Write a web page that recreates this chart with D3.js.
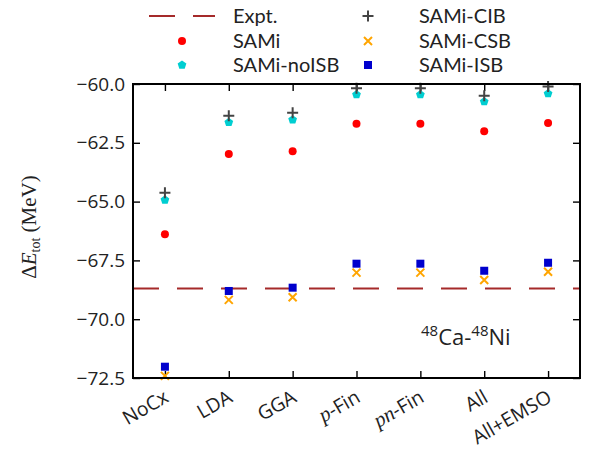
<!DOCTYPE html>
<html>
<head>
<meta charset="utf-8">
<script src="https://cdn.jsdelivr.net/npm/d3@7"></script>
<style>
  body { margin: 0; background: #fff; }
  text { font-family: "Open Sans", sans-serif; fill: #222; }
</style>
</head>
<body>
<svg width="594" height="455"></svg>
<script>
// categories along x
var categories = ["NoCx", "LDA", "GGA", "p-Fin", "pn-Fin", "All", "All+EMSO"];
var yTicks = [-60.0, -62.5, -65.0, -67.5, -70.0, -72.5];

// series (MeV)
var sami      = [-66.39, -62.98, -62.86, -61.69, -61.69, -62.01, -61.66];
var samiNoISB = [-64.93, -61.63, -61.52, -60.45, -60.45, -60.75, -60.41];
var samiCIB   = [-64.62, -61.35, -61.22, -60.18, -60.18, -60.50, -60.11];
var samiCSB   = [-72.41, -69.18, -69.07, -68.02, -68.02, -68.33, -67.98];
var samiISB   = [-72.02, -68.80, -68.66, -67.64, -67.64, -67.94, -67.60];
var expt = -68.69;

var svg = d3.select("svg"),
    margin = { top: 84, right: 14, bottom: 77, left: 133 },
    width = +svg.attr("width") - margin.left - margin.right,
    height = +svg.attr("height") - margin.top - margin.bottom,
    g = svg.append("g").attr("transform", "translate(" + margin.left + "," + margin.top + ")");

var x = d3.scalePoint().domain(categories).range([0, width]).padding(0.5);
var y = d3.scaleLinear().domain([-72.5, -60]).range([height, 0]);

var fmt = function (d) { return d3.format(".1f")(d).replace("-", "\u2212"); };

// axes: inward ticks on all four sides
var axLeft = g.append("g").call(d3.axisLeft(y).tickValues(yTicks).tickFormat(fmt).tickSizeInner(-7).tickSizeOuter(0).tickPadding(8));
var axRight = g.append("g").attr("transform", "translate(" + width + ",0)")
    .call(d3.axisRight(y).tickValues(yTicks).tickFormat("").tickSizeInner(-7).tickSizeOuter(0));
var axTop = g.append("g").call(d3.axisTop(x).tickFormat("").tickSizeInner(-7).tickSizeOuter(0));
var axBottom = g.append("g").attr("transform", "translate(0," + height + ")")
    .call(d3.axisBottom(x).tickFormat("").tickSizeInner(-7).tickSizeOuter(0));

[axLeft, axRight, axTop, axBottom].forEach(function (a) {
    a.select(".domain").remove();
    a.selectAll(".tick line").attr("stroke", "#000").attr("stroke-width", 1.4);
});
axLeft.selectAll(".tick text").style("font-size", "19px").attr("fill", "#222")
    .style("font-family", "'Open Sans', sans-serif");

// x tick labels, rotated
var xl = g.append("g").attr("transform", "translate(0," + height + ")");
categories.forEach(function (c) {
    var t = xl.append("text")
        .attr("transform", "translate(" + (x(c) + 5) + ",23) rotate(-30)")
        .attr("text-anchor", "end")
        .style("font-size", "19.5px");
    if (c === "p-Fin" || c === "pn-Fin") {
        t.append("tspan").text(c.split("-")[0])
            .style("font-family", "'Liberation Serif', serif").style("font-style", "italic").style("font-size", "21px");
        t.append("tspan").text("-Fin");
    } else {
        t.text(c);
    }
});

// experimental line
g.append("line")
    .attr("x1", 0).attr("x2", width)
    .attr("y1", y(expt)).attr("y2", y(expt))
    .attr("stroke", "#a52a2a").attr("stroke-width", 2)
    .attr("stroke-dasharray", "26,18");

var pent = function (r) {
    var pts = d3.range(5).map(function (i) {
        var a = -Math.PI / 2 + i * 2 * Math.PI / 5;
        return [r * Math.cos(a), r * Math.sin(a)];
    });
    return "M" + pts.join("L") + "Z";
};

var drawCircle = function (sel, vals) {
    sel.selectAll(null).data(vals).enter().append("circle")
        .attr("cx", function (d, i) { return x(categories[i]); })
        .attr("cy", function (d) { return y(d); })
        .attr("r", 4).attr("fill", "#ff0000");
};
var drawPent = function (sel, vals) {
    sel.selectAll(null).data(vals).enter().append("path")
        .attr("transform", function (d, i) { return "translate(" + x(categories[i]) + "," + y(d) + ")"; })
        .attr("d", pent(4.6)).attr("fill", "#00ced1");
};
var drawPlus = function (sel, vals) {
    sel.selectAll(null).data(vals).enter().append("path")
        .attr("transform", function (d, i) { return "translate(" + x(categories[i]) + "," + y(d) + ")"; })
        .attr("d", "M-5.5,0H5.5M0,-5.5V5.5").attr("stroke", "#444").attr("stroke-width", 2).attr("fill", "none");
};
var drawX = function (sel, vals) {
    sel.selectAll(null).data(vals).enter().append("path")
        .attr("transform", function (d, i) { return "translate(" + x(categories[i]) + "," + y(d) + ")"; })
        .attr("d", "M-4,-4L4,4M-4,4L4,-4").attr("stroke", "#ffa500").attr("stroke-width", 2).attr("fill", "none");
};
var drawSq = function (sel, vals) {
    sel.selectAll(null).data(vals).enter().append("rect")
        .attr("x", function (d, i) { return x(categories[i]) - 4; })
        .attr("y", function (d) { return y(d) - 4; })
        .attr("width", 8).attr("height", 8).attr("fill", "#0000cd");
};

drawCircle(g.append("g"), sami);
drawPent(g.append("g"), samiNoISB);
drawPlus(g.append("g"), samiCIB);
drawX(g.append("g"), samiCSB);
drawSq(g.append("g"), samiISB);

// frame
g.append("rect").attr("width", width).attr("height", height)
    .attr("fill", "none").attr("stroke", "#000").attr("stroke-width", 2);

// annotation
var ann = g.append("text").attr("x", 288).attr("y", 261).style("font-size", "22px");
ann.append("tspan").text("48").attr("dy", -9).style("font-size", "15px");
ann.append("tspan").text("Ca-").attr("dy", 9);
ann.append("tspan").text("48").attr("dy", -9).style("font-size", "15px");
ann.append("tspan").text("Ni").attr("dy", 9);

// y label
var yl = svg.append("text")
    .attr("transform", "translate(36," + (margin.top + height / 2 - 4) + ") rotate(-90)")
    .attr("text-anchor", "middle")
    .style("font-family", "'Liberation Serif', serif").style("font-size", "21px");
yl.append("tspan").text("\u0394");
yl.append("tspan").text("E").style("font-style", "italic");
yl.append("tspan").text("tot").attr("dy", 4).style("font-size", "14px");
yl.append("tspan").text(" (MeV)").attr("dy", -4);

// legend
var leg = svg.append("g");
var legItems = [
    { name: "Expt.", col: 0, row: 0, draw: function (s) {
        s.append("line").attr("x1", -33).attr("x2", 33).attr("stroke", "#a52a2a").attr("stroke-width", 2).attr("stroke-dasharray", "26,18");
    } },
    { name: "SAMi", col: 0, row: 1, draw: function (s) { s.append("circle").attr("r", 4).attr("fill", "#ff0000"); } },
    { name: "SAMi-noISB", col: 0, row: 2, draw: function (s) { s.append("path").attr("d", pent(4.6)).attr("fill", "#00ced1"); } },
    { name: "SAMi-CIB", col: 1, row: 0, draw: function (s) {
        s.append("path").attr("d", "M-5.5,0H5.5M0,-5.5V5.5").attr("stroke", "#444").attr("stroke-width", 2);
    } },
    { name: "SAMi-CSB", col: 1, row: 1, draw: function (s) {
        s.append("path").attr("d", "M-4,-4L4,4M-4,4L4,-4").attr("stroke", "#ffa500").attr("stroke-width", 2);
    } },
    { name: "SAMi-ISB", col: 1, row: 2, draw: function (s) {
        s.append("rect").attr("x", -4).attr("y", -4).attr("width", 8).attr("height", 8).attr("fill", "#0000cd");
    } }
];
var colMarker = [182, 368], colText = [233, 419], rowY = [16, 41, 65];
legItems.forEach(function (it) {
    var s = leg.append("g").attr("transform", "translate(" + colMarker[it.col] + "," + rowY[it.row] + ")");
    it.draw(s);
    leg.append("text").attr("x", colText[it.col]).attr("y", rowY[it.row] + 7)
        .style("font-family", "Lato, sans-serif").style("font-size", "20px").text(it.name);
});
</script>
</body>
</html>
